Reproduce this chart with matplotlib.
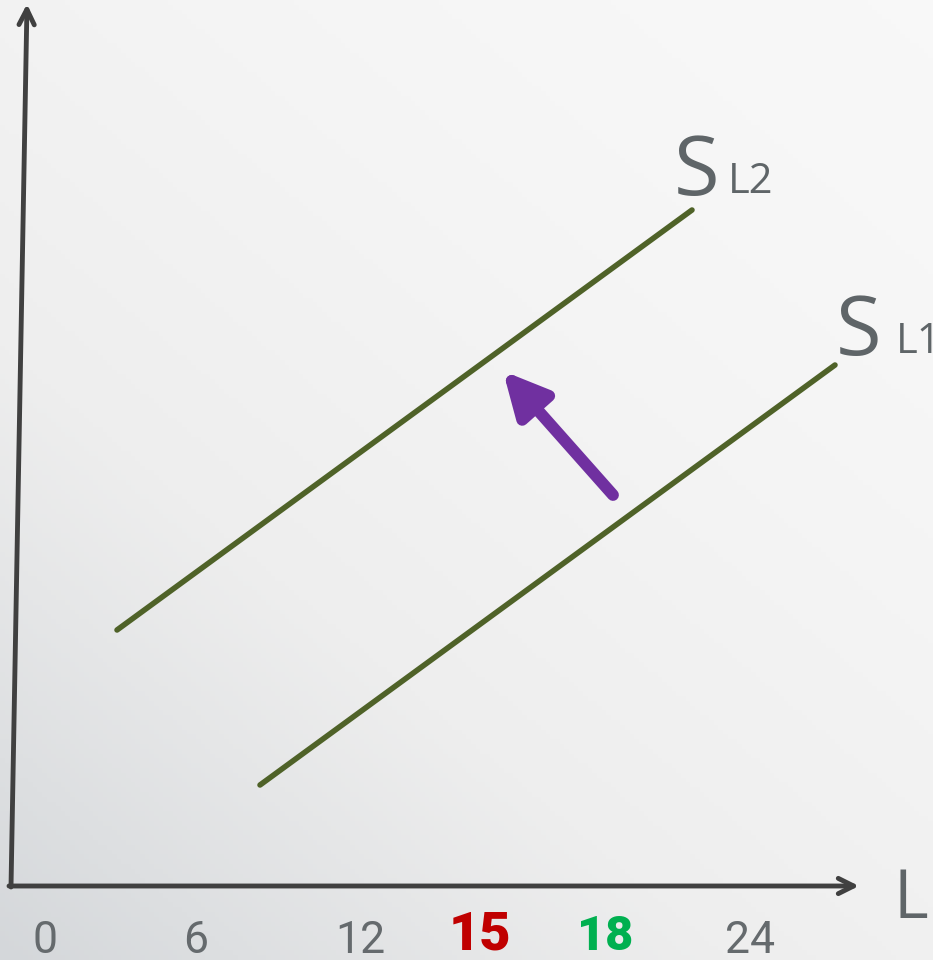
import numpy as np
import matplotlib.pyplot as plt
from matplotlib.colors import LinearSegmentedColormap

# supply curves (x, y in picture units, y grows downward)
sl1_x = [260, 835]
sl1_y = [785, 365]
sl2_x = [117, 692]
sl2_y = [630, 210]

# shift arrow (tail -> head)
shift_x = [613, 503]
shift_y = [495, 371]

tick_labels = ['0', '6', '12', '15', '18', '24']
tick_x = [45, 196, 360, 480, 605, 750]
tick_colors = ['#656a6d', '#656a6d', '#656a6d', '#c00000', '#00b050', '#656a6d']
tick_sizes = [32, 32, 32, 39, 35, 32]
tick_bold = [False, False, False, True, True, False]

W, H = 933, 960
fig = plt.figure(figsize=(W / 100, H / 100), dpi=100)
ax = fig.add_axes([0, 0, 1, 1])
ax.set_xlim(0, W)
ax.set_ylim(H, 0)
ax.axis('off')

# background gradient, light top-right to grey bottom-left
gx, gy = np.meshgrid(np.linspace(0, 1, 200), np.linspace(0, 1, 200))
g = np.clip(0.55 * gy + 0.45 * (1 - gx), 0, 1) ** 1.6
cmap = LinearSegmentedColormap.from_list('bg', ['#f8f8f8', '#eeeeee', '#d4d7da'])
ax.imshow(g, cmap=cmap, extent=[0, W, H, 0], aspect='auto', zorder=0)

axis_col = '#404040'
# axes with arrow heads
ax.annotate('', xy=(859, 886), xytext=(9, 886),
            arrowprops=dict(arrowstyle='->,head_length=1.1,head_width=0.55',
                            color=axis_col, lw=3.5, shrinkA=0, shrinkB=0))
ax.annotate('', xy=(27, 4), xytext=(11, 887),
            arrowprops=dict(arrowstyle='->,head_length=1.1,head_width=0.55',
                            color=axis_col, lw=3.5, shrinkA=0, shrinkB=0))

line_col = '#4f6228'
ax.plot(sl1_x, sl1_y, color=line_col, lw=4, solid_capstyle='round')
ax.plot(sl2_x, sl2_y, color=line_col, lw=4, solid_capstyle='round')

ax.annotate('', xy=(shift_x[1], shift_y[1]), xytext=(shift_x[0], shift_y[0]),
            arrowprops=dict(arrowstyle='-|>,head_length=1.3,head_width=0.65',
                            color='#7030a0', lw=8.5, capstyle='round',
                            mutation_scale=20, shrinkA=0, shrinkB=0))

lab_col = '#5f6568'
fam = ['Open Sans', 'DejaVu Sans']
ax.text(674, 195, 'S', fontsize=60, color=lab_col, family=fam, va='baseline')
ax.text(728, 193, 'L2', fontsize=30, color=lab_col, family=fam, va='baseline')
ax.text(836, 355, 'S', fontsize=60, color=lab_col, family=fam, va='baseline')
ax.text(896, 353, 'L1', fontsize=30, color=lab_col, family=fam, va='baseline')
ax.text(893, 918, 'L', fontsize=48, color=lab_col, family=fam, va='baseline')

narrow = ['Roboto', 'DejaVu Sans']
for lab, x, c, s, b in zip(tick_labels, tick_x, tick_colors, tick_sizes, tick_bold):
    ax.text(x, 953 if not b else 950, lab, fontsize=s,
            color=c, family=narrow, fontweight='black' if b else 'normal',
            ha='center', va='baseline')

fig.savefig('out.png', dpi=100)
